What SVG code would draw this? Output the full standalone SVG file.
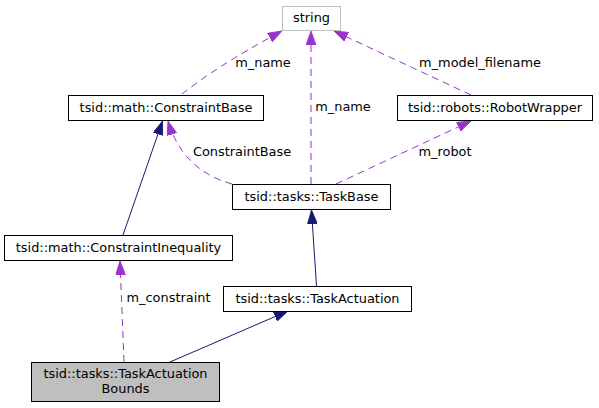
<svg xmlns="http://www.w3.org/2000/svg" width="599" height="408" viewBox="0 0 599 408">
<style>
text { font-family: "DejaVu Sans", "Liberation Sans", sans-serif; font-size: 12.9px; fill: #000; }
.node text { text-anchor: middle; }
.box { fill: #fff; stroke: #000; stroke-width: 1; }
.grey { fill: #fff; stroke: #bfbfbf; stroke-width: 1; }
.focus { fill: #bfbfbf; stroke: #000; stroke-width: 1; }
.use { fill: none; stroke: #9a32cd; stroke-width: 1; stroke-dasharray: 7,5; marker-end: url(#ap); }
.inh { fill: none; stroke: #191970; stroke-width: 1; marker-end: url(#an); }
.lbl { text-anchor: middle; }
</style>
<defs>
<marker id="ap" viewBox="0 0 14 10" refX="14" refY="5" markerWidth="14" markerHeight="10" markerUnits="userSpaceOnUse" orient="auto">
<path d="M0,0 L14,5 L0,10 z" fill="#9a32cd" stroke="#9a32cd" stroke-width="0.8"/>
</marker>
<marker id="an" viewBox="0 0 14 10" refX="14" refY="5" markerWidth="14" markerHeight="10" markerUnits="userSpaceOnUse" orient="auto">
<path d="M0,0 L14,5 L0,10 z" fill="#191970" stroke="#191970" stroke-width="0.8"/>
</marker>
</defs>
<rect width="599" height="408" fill="#fff"/>
<g id="edges">
<path class="use" d="M182,94 C205,76 232,58 282,31"/>
<text class="lbl" x="263" y="66.5">m_name</text>
<path class="use" d="M311,184 L311,31"/>
<text class="lbl" x="343" y="111">m_name</text>
<path class="use" d="M471,95 L334,31"/>
<text class="lbl" x="480" y="66.5">m_model_filename</text>
<path class="use" d="M336,184 L471,121"/>
<text class="lbl" x="445" y="156">m_robot</text>
<path class="use" d="M232,184 C200,175 178,155 168,121"/>
<text class="lbl" x="242" y="156">ConstraintBase</text>
<path class="inh" d="M123,235 L162.5,121"/>
<path class="inh" d="M316.5,286 L311.5,210"/>
<path class="use" d="M124,362 L120,261"/>
<text class="lbl" x="168.5" y="302">m_constraint</text>
<path class="inh" d="M170,362 L288,311"/>
</g>
<g id="node-string" class="node">
<rect class="grey" x="282.5" y="6.5" width="58" height="24"/>
<text x="311.5" y="22">string</text>
</g>
<g id="node-constraintbase" class="node">
<rect class="box" x="68.5" y="95.5" width="195" height="25"/>
<text x="166" y="111.5">tsid::math::ConstraintBase</text>
</g>
<g id="node-robotwrapper" class="node">
<rect class="box" x="397.5" y="95.5" width="195" height="25"/>
<text x="495" y="111.5">tsid::robots::RobotWrapper</text>
</g>
<g id="node-taskbase" class="node">
<rect class="box" x="232.5" y="184.5" width="158" height="25"/>
<text x="311.5" y="201">tsid::tasks::TaskBase</text>
</g>
<g id="node-constraintinequality" class="node">
<rect class="box" x="4.5" y="235.5" width="228" height="25"/>
<text x="118.5" y="252">tsid::math::ConstraintInequality</text>
</g>
<g id="node-taskactuation" class="node">
<rect class="box" x="223.5" y="286.5" width="188" height="25"/>
<text x="317.5" y="303">tsid::tasks::TaskActuation</text>
</g>
<g id="node-taskactuationbounds" class="node">
<rect class="focus" x="31.5" y="362.5" width="188" height="39"/>
<text x="125.5" y="377.5">tsid::tasks::TaskActuation</text>
<text x="125.5" y="392.5">Bounds</text>
</g>
</svg>
